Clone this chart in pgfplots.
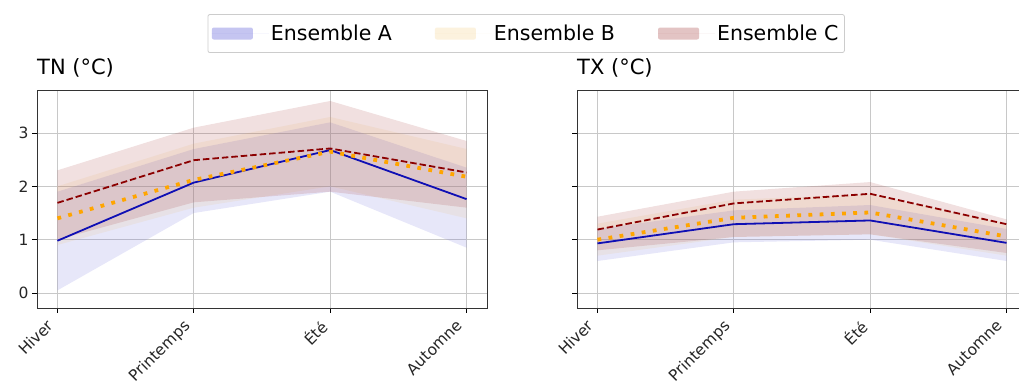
\documentclass[border=0pt]{standalone}
\usepackage{fontspec}
\setmainfont{DejaVu Sans}
\usepackage{pgfplots}
\usepackage{pgfplotstable}
\pgfplotsset{compat=1.18}
\usepgfplotslibrary{fillbetween}

\definecolor{lineA}{RGB}{15,15,180}
\definecolor{lineB}{RGB}{255,165,0}
\definecolor{lineC}{RGB}{139,0,0}
\definecolor{bandA}{RGB}{110,110,220}
\definecolor{bandB}{RGB}{240,190,90}
\definecolor{bandC}{RGB}{165,60,60}
\definecolor{gridgray}{RGB}{200,200,200}

\pgfplotstableread{
x A    Alo  Ahi  B    Blo  Bhi  C    Clo  Chi
0 0.98 0.05 1.90 1.40 0.90 2.00 1.69 1.00 2.30
1 2.07 1.50 2.70 2.12 1.60 2.80 2.49 1.70 3.10
2 2.68 1.90 3.20 2.65 2.00 3.30 2.71 1.90 3.60
3 1.76 0.85 2.35 2.18 1.40 2.70 2.26 1.60 2.85
}\tndata

\pgfplotstableread{
x A    Alo  Ahi  B    Blo  Bhi  C    Clo  Chi
0 0.93 0.60 1.20 1.00 0.70 1.30 1.19 0.80 1.43
1 1.29 0.95 1.55 1.41 1.05 1.75 1.68 1.05 1.90
2 1.36 1.00 1.65 1.51 1.10 1.85 1.86 1.10 2.08
3 0.94 0.60 1.20 1.06 0.70 1.30 1.29 0.75 1.38
}\txdata

\newcommand{\pad}{\rule{16bp}{0pt}}

\pgfplotsset{
  myaxis/.style={
    scale only axis,
    width=450bp, height=218bp,
    xmin=-0.15, xmax=3.15,
    ymin=-0.281, ymax=3.806,
    xtick={0,1,2,3},
    xticklabels={Hiver\pad,Printemps\pad,Été\pad,Automne\pad},
    ytick={0,1,2,3},
    xtick pos=lower, ytick pos=left,
    tick align=outside,
    major tick length=5bp,
    tick style={black, line width=0.8bp},
    axis line style={black!80, line width=0.9bp},
    grid=major,
    major grid style={gridgray, line width=0.9bp},
    /pgf/number format/assume math mode=true,
    ticklabel style={font=\fontsize{15.5bp}{18bp}\selectfont, text=black!85},
    xticklabel style={rotate=45, anchor=north east, inner sep=0pt},
    xticklabel shift=-6bp,
    title style={at={(0,1)}, anchor=base west, yshift=10bp, inner xsep=0pt,
      font=\fontsize{21bp}{25bp}\selectfont},
  },
}

\newcommand{\drawset}[1]{%
  \addplot[name path=ahi, draw=none, forget plot] table[x=x,y=Ahi]{#1};
  \addplot[name path=alo, draw=none, forget plot] table[x=x,y=Alo]{#1};
  \addplot[bandA, fill opacity=0.17, draw=none, forget plot] fill between[of=ahi and alo];
  \addplot[name path=bhi, draw=none, forget plot] table[x=x,y=Bhi]{#1};
  \addplot[name path=blo, draw=none, forget plot] table[x=x,y=Blo]{#1};
  \addplot[bandB, fill opacity=0.12, draw=none, forget plot] fill between[of=bhi and blo];
  \addplot[name path=chi, draw=none, forget plot] table[x=x,y=Chi]{#1};
  \addplot[name path=clo, draw=none, forget plot] table[x=x,y=Clo]{#1};
  \addplot[bandC, fill opacity=0.16, draw=none, forget plot] fill between[of=chi and clo];
  \addplot[lineA, line width=1.8bp, forget plot] table[x=x,y=A]{#1};
  \addplot[lineB, line width=3.8bp, line cap=butt, dash pattern=on 3.8bp off 7.4bp, forget plot] table[x=x,y=B]{#1};
  \addplot[lineC, line width=1.8bp, dash pattern=on 6.5bp off 3bp, forget plot] table[x=x,y=C]{#1};
}

\begin{document}
\begin{tikzpicture}
\begin{axis}[myaxis,
  at={(37bp,82bp)}, anchor=south west,
  title={TN (°C)},
  legend columns=3,
  legend style={at={(1.087,1.259)}, anchor=center,
    draw=black!20, rounded corners=2bp, line width=0.8bp,
    font=\fontsize{20.5bp}{24bp}\selectfont,
    inner xsep=4bp, inner ysep=8.5bp,
    /tikz/every even column/.append style={column sep=41bp},
  },
  legend cell align=left,
  legend image code/.code={\fill[#1] (0bp,-6bp) rectangle (41bp,6bp); \path (0bp,0bp) -- (57bp,0bp);},
]
\drawset{\tndata}
\addlegendimage{fill=bandA, fill opacity=0.4, draw=none}
\addlegendentry{Ensemble A}
\addlegendimage{fill=bandB, fill opacity=0.2, draw=none}
\addlegendentry{Ensemble B}
\addlegendimage{fill=bandC, fill opacity=0.3, draw=none}
\addlegendentry{Ensemble C}
\end{axis}

\begin{axis}[myaxis,
  at={(577bp,82bp)}, anchor=south west,
  title={TX (°C)},
  yticklabels={},
]
\drawset{\txdata}
\end{axis}
\pgfresetboundingbox
\path[use as bounding box] (0,0) rectangle (1019bp,390bp);
\end{tikzpicture}
\end{document}
